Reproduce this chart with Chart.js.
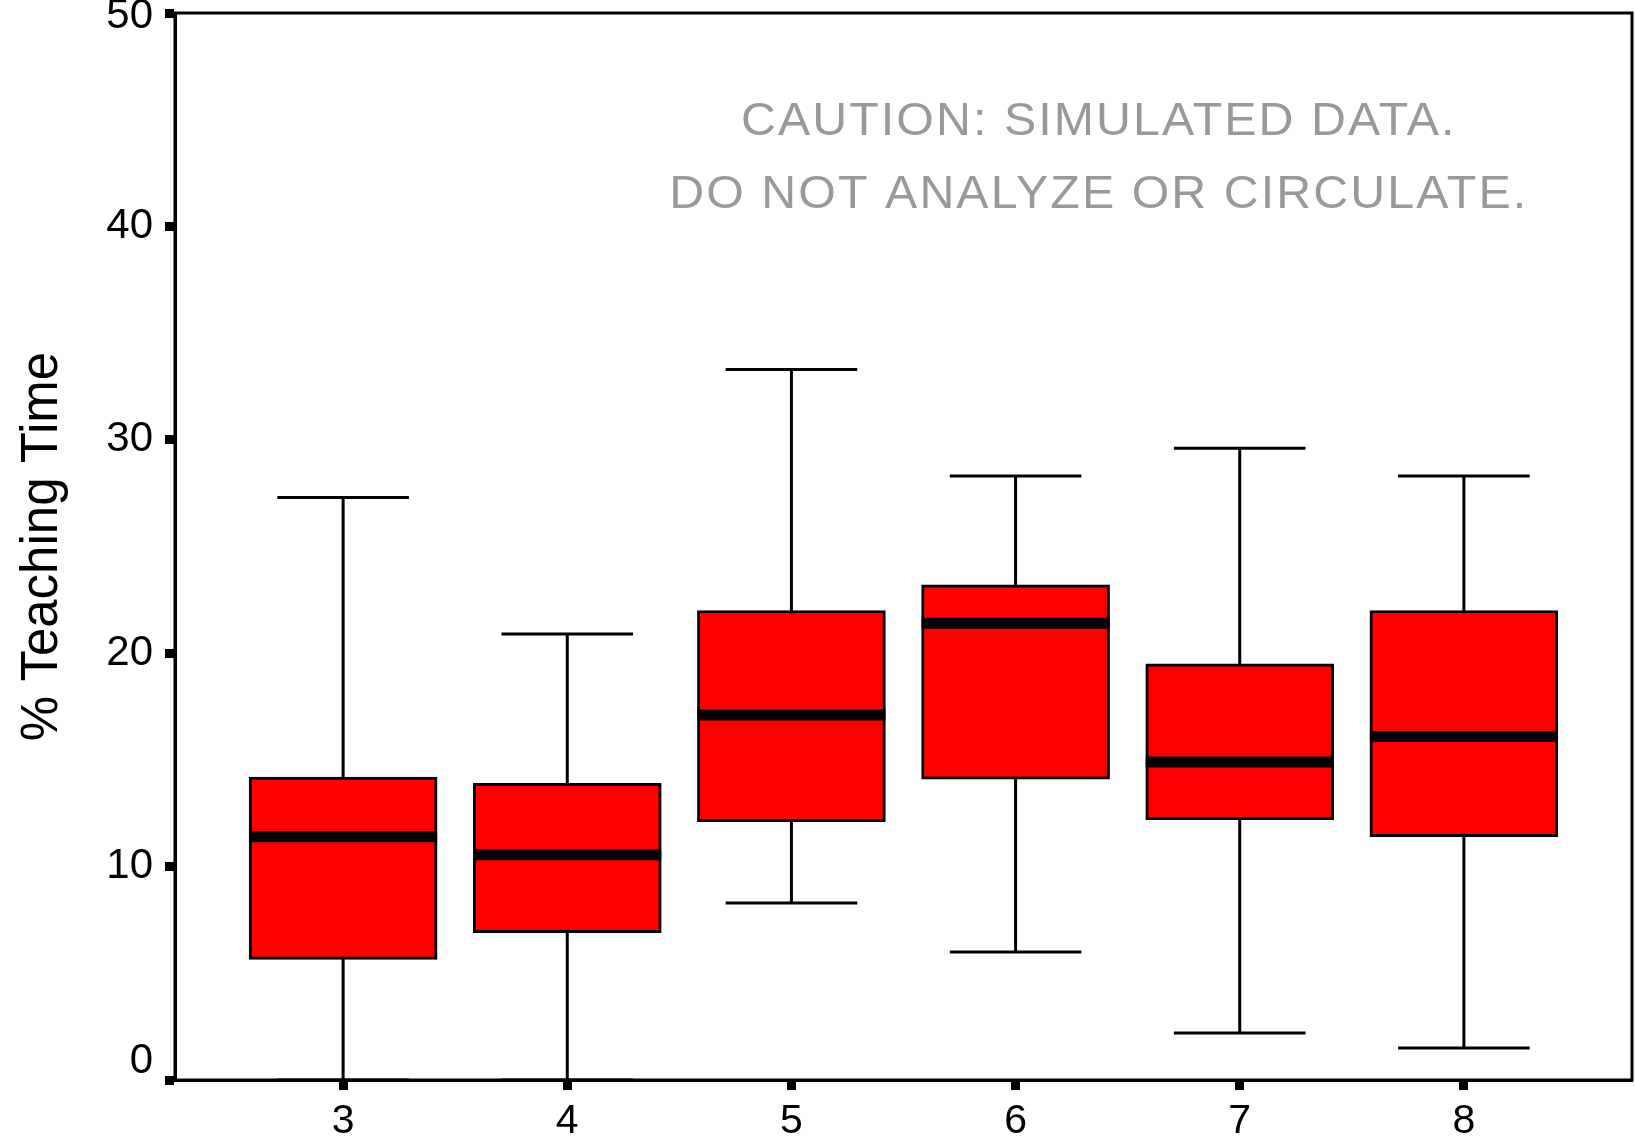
<!DOCTYPE html>
<html>
<head>
<meta charset="utf-8">
<script src="https://cdn.jsdelivr.net/npm/chart.js@4.4.1/dist/chart.umd.min.js"></script>
<style>
  html, body { margin: 0; padding: 0; background: #fff; }
  #wrap { width: 1635px; height: 1139px; }
</style>
</head>
<body>
<div id="wrap"><canvas id="chart"></canvas></div>
<script>
// box plot summary per grade
const GRADES       = [3, 4, 5, 6, 7, 8];
const WHISKER_LOW  = [0, 0, 8.3, 6.0, 2.2, 1.5];
const Q1           = [5.65, 6.9, 12.1, 14.1, 12.2, 11.4];
const MEDIAN       = [11.4, 10.55, 17.1, 21.4, 14.9, 16.1];
const Q3           = [14.2, 13.9, 22.0, 23.2, 19.5, 22.0];
const WHISKER_HIGH = [27.3, 20.9, 33.3, 28.3, 29.6, 28.3];
const Y_TICKS      = [0, 10, 20, 30, 40, 50];
const WATERMARK    = ["CAUTION: SIMULATED DATA.", "DO NOT ANALYZE OR CIRCULATE."];

const BOX_RED = "#FF0000";
const SANS = "'Liberation Sans', Arial, sans-serif";

// whiskers behind the boxes, medians and frame on top
const boxPlotPlugin = {
  id: "boxPlot",
  beforeDatasetsDraw(chart) {
    const { ctx, scales: { x, y } } = chart;
    const bars = chart.getDatasetMeta(0).data;
    ctx.save();
    ctx.strokeStyle = "#000";
    ctx.lineWidth = 3;
    GRADES.forEach((g, i) => {
      const cx = x.getPixelForValue(g);
      const cap = bars[i].width * 0.35;
      const lo = y.getPixelForValue(WHISKER_LOW[i]);
      const hi = y.getPixelForValue(WHISKER_HIGH[i]);
      ctx.beginPath();
      ctx.moveTo(cx, lo); ctx.lineTo(cx, hi);
      ctx.moveTo(cx - cap, lo); ctx.lineTo(cx + cap, lo);
      ctx.moveTo(cx - cap, hi); ctx.lineTo(cx + cap, hi);
      ctx.stroke();
    });
    ctx.restore();
  },
  afterDatasetsDraw(chart) {
    const { ctx, scales: { y } } = chart;
    const bars = chart.getDatasetMeta(0).data;
    ctx.save();
    ctx.strokeStyle = "#000";
    ctx.lineWidth = 11;
    MEDIAN.forEach((m, i) => {
      const b = bars[i];
      const py = y.getPixelForValue(m);
      ctx.beginPath();
      ctx.moveTo(b.x - b.width / 2, py);
      ctx.lineTo(b.x + b.width / 2, py);
      ctx.stroke();
    });
    ctx.restore();
  },
  afterDraw(chart) {
    const { ctx, chartArea: a } = chart;
    ctx.save();
    ctx.strokeStyle = "#000";
    ctx.lineWidth = 3;
    ctx.strokeRect(a.left, a.top, a.right - a.left, a.bottom - a.top);

    // watermark: narrow sans, squeezed horizontally to the reference width
    ctx.fillStyle = "#999999";
    ctx.font = "47px " + SANS;
    ctx.letterSpacing = "2px";
    ctx.textAlign = "center";
    ctx.textBaseline = "alphabetic";
    const cx = a.left + (a.right - a.left) * 0.634;
    const squeeze = 859 / ctx.measureText(WATERMARK[1]).width;
    ctx.translate(cx, 0);
    ctx.scale(squeeze, 1);
    ctx.fillText(WATERMARK[0], 0, a.top + 122);
    ctx.fillText(WATERMARK[1], 0, a.top + 195);
    ctx.restore();
  },
};

new Chart(document.getElementById("chart"), {
  type: "bar",
  data: {
    datasets: [{
      label: "% Teaching Time",
      data: GRADES.map((g, i) => ({ x: g, y: [Q1[i], Q3[i]] })),
      backgroundColor: BOX_RED,
      borderColor: "#000",
      borderWidth: 3,
      borderSkipped: false,
      barThickness: 188,
    }],
  },
  options: {
    responsive: true,
    maintainAspectRatio: false,
    animation: false,
    layout: { padding: { top: 13, right: 3, left: 0, bottom: 0 } },
    plugins: { legend: { display: false }, tooltip: { enabled: false } },
    scales: {
      x: {
        type: "linear",
        min: 2.25,
        max: 8.75,
        offset: false,
        afterBuildTicks: s => { s.ticks = GRADES.map(v => ({ value: v })); },
        afterFit: s => { s.height = 59; s.paddingLeft = 0; s.paddingRight = 0; },
        ticks: { color: "#000", font: { family: SANS, size: 41 }, padding: 7 },
        grid: { offset: false, drawOnChartArea: false, drawTicks: true, tickLength: 10, tickWidth: 9, tickColor: "#000" },
        border: { display: true, color: "#000", width: 3 },
      },
      y: {
        min: 0,
        max: 50,
        afterBuildTicks: s => { s.ticks = Y_TICKS.map(v => ({ value: v })); },
        afterFit: s => { s.width = 175; s.paddingTop = 0; s.paddingBottom = 0; },
        ticks: {
          color: "#000",
          padding: 12,
          // end labels are nudged inward like in the original: 0 up, 50 slightly down
          callback: v => v === 0 ? [String(v), ""] : v === 50 ? ["", String(v)] : String(v),
          font: c => ({ family: SANS, size: 42, lineHeight: c.tick && c.tick.value === 50 ? 0.15 : 0.9 }),
        },
        grid: { drawOnChartArea: false, drawTicks: true, tickLength: 10, tickWidth: 9, tickColor: "#000" },
        border: { display: true, color: "#000", width: 3 },
        title: {
          display: true,
          text: "% Teaching Time",
          color: "#000",
          font: { family: SANS, size: 51 },
          padding: { top: 12, bottom: 0 },
        },
      },
    },
  },
  plugins: [boxPlotPlugin],
});
</script>
</body>
</html>
